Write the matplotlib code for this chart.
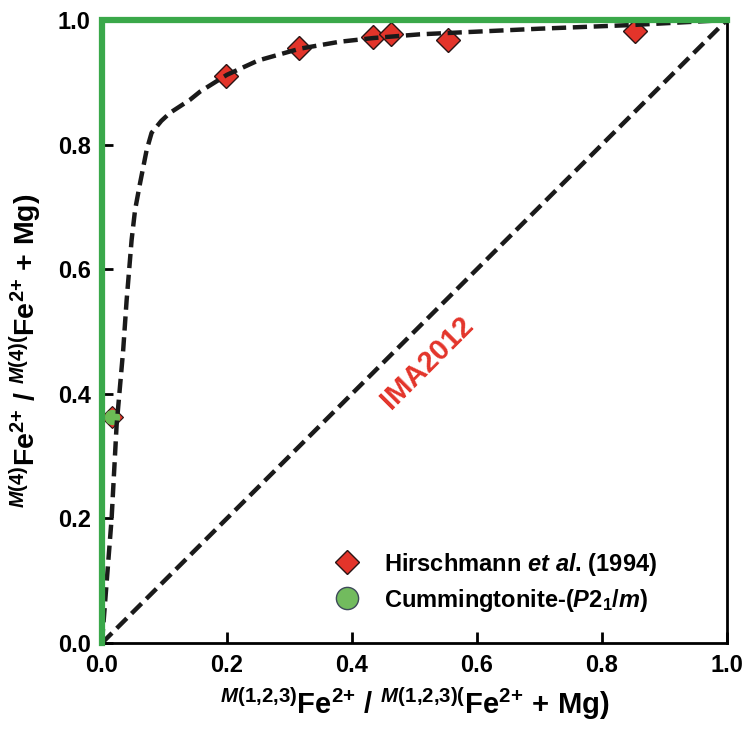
import matplotlib
matplotlib.use('Agg')
import matplotlib.pyplot as plt

plt.rcParams['font.family'] = 'Liberation Sans'
plt.rcParams['font.weight'] = 'bold'
plt.rcParams['mathtext.fontset'] = 'custom'
plt.rcParams['mathtext.rm'] = 'Liberation Sans:bold'
plt.rcParams['mathtext.it'] = 'Liberation Sans:italic:bold'
plt.rcParams['mathtext.bf'] = 'Liberation Sans:bold'

# Hirschmann et al. (1994) site occupancies
hirsch_x = [0.198, 0.316, 0.433, 0.463, 0.554, 0.853]
hirsch_y = [0.910, 0.955, 0.972, 0.977, 0.968, 0.983]

# Cummingtonite-(P21/m)
cum_x = [0.016]
cum_y = [0.363]

# dashed ordering curve
curve_x = [0.0, 0.0155, 0.0235, 0.034, 0.0395, 0.042, 0.0475, 0.053, 0.061,
           0.0715, 0.0795, 0.095, 0.109, 0.141, 0.157, 0.200, 0.250, 0.317,
           0.380, 0.434, 0.509, 0.700, 0.850, 1.0]
curve_y = [0.0, 0.20, 0.35, 0.47, 0.55, 0.58, 0.647, 0.695, 0.738,
           0.791, 0.819, 0.838, 0.851, 0.872, 0.885, 0.912, 0.935, 0.954,
           0.965, 0.971, 0.977, 0.986, 0.992, 1.0]

# IMA2012 (random distribution) and fully ordered boundary
ima_x = [0.0, 1.0]
ima_y = [0.0, 1.0]
order_x = [0.0, 0.0, 1.0]
order_y = [0.0, 1.0, 1.0]

ticks = [0.0, 0.2, 0.4, 0.6, 0.8, 1.0]

fig = plt.figure(figsize=(7.44, 7.40), dpi=100)
ax = fig.add_axes([0.137, 0.131, 0.840, 0.842])

red = '#e3342a'
green = '#3aa84a'

ax.plot(ima_x, ima_y, color='#1a1a1a', lw=3.2, dashes=(3.2, 1.5), zorder=2)
ax.plot(hirsch_x, hirsch_y, 'D', ms=12.5, mfc=red, mec='#2a1515', mew=1.0,
        zorder=3, label='Hirschmann $\\mathit{et\\ al}$. (1994)')
ax.plot(cum_x, cum_y, 'D', ms=11, mfc=red, mec='#2a1515', mew=0.8, zorder=3)
ax.plot(cum_x, cum_y, 'o', ms=10, mfc='#6cbd55', mec='#6cbd55', zorder=3)
ax.plot(curve_x, curve_y, color='#1a1a1a', lw=3.2, dashes=(3.2, 1.5), zorder=4)
ax.plot(order_x, order_y, color=green, lw=4.5, zorder=5, clip_on=False,
        solid_joinstyle='miter')

# legend entry for cummingtonite
ax.plot([], [], 'o', ms=16, mfc='#72bb5e', mec='#3e4a5a', mew=1.0,
        label='Cummingtonite-($P$2$_1$/$m$)')

ax.text(0.52, 0.45, 'IMA2012', color=red, fontsize=21, fontweight='bold',
        rotation=45, ha='center', va='center', rotation_mode='anchor')

ax.set_xlim(0, 1)
ax.set_ylim(0, 1)
ax.set_xticks(ticks)
ax.set_yticks(ticks)
ax.set_xticklabels(['%.1f' % t for t in ticks])
ax.set_yticklabels(['%.1f' % t for t in ticks])
ax.tick_params(direction='in', length=8, width=2, labelsize=17, pad=8)
for side in ['bottom', 'right']:
    ax.spines[side].set_linewidth(2)
ax.spines['left'].set_visible(False)
ax.spines['top'].set_visible(False)

ax.set_xlabel(r'$^{M\mathrm{(1{,}2{,}3)}}\mathrm{Fe}^{2{+}}\ /\ ^{M\mathrm{(1{,}2{,}3)(}}\mathrm{Fe}^{2{+}}\ \mathrm{+\ Mg)}$',
              fontsize=21)
ax.set_ylabel(r'$^{M\mathrm{(4)}}\mathrm{Fe}^{2{+}}\ /\ ^{M\mathrm{(4)(}}\mathrm{Fe}^{2{+}}\ \mathrm{+\ Mg)}$',
              fontsize=20.5)
ax.xaxis.set_label_coords(0.5, -0.068)
ax.yaxis.set_label_coords(-0.092, 0.469)

ax.legend(loc='lower left', bbox_to_anchor=(0.34, 0.032), frameon=False,
          fontsize=17, handletextpad=0.55, labelspacing=0.38, borderaxespad=0)

fig.savefig('out.png', dpi=100)
